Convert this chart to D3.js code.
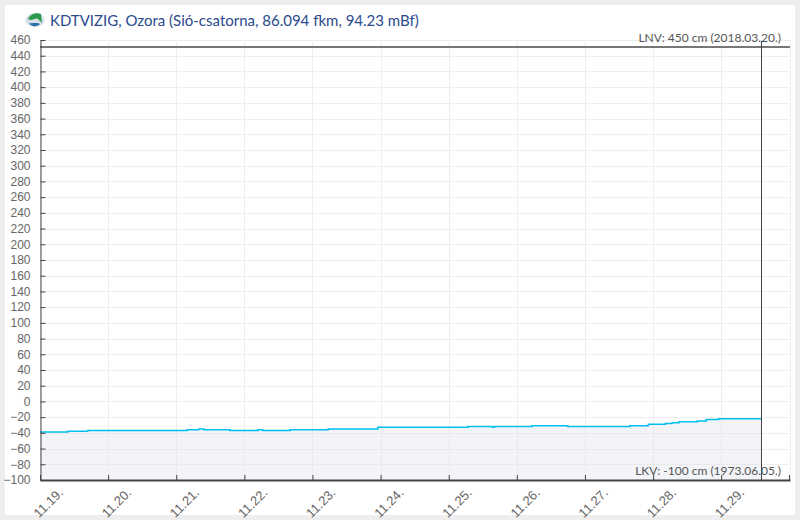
<!DOCTYPE html>
<html>
<head>
<meta charset="utf-8">
<script src="https://cdn.jsdelivr.net/npm/d3@7/dist/d3.min.js"></script>
<style>
    html, body { margin: 0; padding: 0; background: #eeeeee; }
    svg { display: block; }
    .axis-label { font-family: "Liberation Sans", Arial, sans-serif; font-size: 12px; fill: #666; }
    .day-label { font-family: "Liberation Sans", Arial, sans-serif; font-size: 13px; fill: #666; }
    .note { font-family: Lato, sans-serif; font-size: 12px; fill: #555; text-anchor: end; }
    .title { font-family: Lato, sans-serif; font-size: 15px; fill: #2a4b8d; }
</style>
</head>
<body>
<div id="chart"></div>
<script>
// days counted from 11.19. and the water level (cm) that starts there
const levelDays = [0, 0.41, 0.70, 2.16, 2.33, 2.41, 2.79, 3.20, 3.27, 3.67, 4.23, 4.96, 6.28, 6.64, 6.67, 7.22, 7.75, 8.66, 8.93, 9.18, 9.28, 9.38, 9.65, 9.78, 9.96, 10.59];
const levelValues = [-39, -38, -37, -36, -35, -36, -37, -36, -37, -36, -35, -33, -32, -33, -32, -31, -32, -31, -29, -28, -27, -26, -25, -23, -22, -22];

const dayTicks = [0, 1, 2, 3, 4, 5, 6, 7, 8, 9, 10];
const dayLabels = ["11.19.", "11.20.", "11.21.", "11.22.", "11.23.", "11.24.", "11.25.", "11.26.", "11.27.", "11.28.", "11.29."];
const levelTicks = d3.range(-100, 461, 20);

const titleText = "KDTVIZIG, Ozora (Sió-csatorna, 86.094 fkm, 94.23 mBf)";
const lnvText = "LNV: 450 cm (2018.03.20.)";
const lkvText = "LKV: -100 cm (1973.06.05.)";

const width = 800, height = 520;
const plot = {left: 40, right: 790, top: 40, bottom: 480};

const svg = d3.select("#chart").append("svg")
    .attr("width", width)
    .attr("height", height);

svg.append("rect")
    .attr("x", 5).attr("y", 5)
    .attr("width", 790).attr("height", 510)
    .attr("fill", "#fff");

const xScale = d3.scaleLinear().domain([0, 11.01]).range([plot.left, plot.right]);
const yScale = d3.scaleLinear().domain([-100, 460]).range([plot.bottom, plot.top]);

// grid
svg.append("g").selectAll("line")
    .data(levelTicks)
    .enter().append("line")
    .attr("x1", plot.left).attr("x2", plot.right)
    .attr("y1", d => Math.round(yScale(d)) + 0.5)
    .attr("y2", d => Math.round(yScale(d)) + 0.5)
    .attr("stroke", "#eeeeee");

svg.append("g").selectAll("line")
    .data(dayTicks.concat([11.01]))
    .enter().append("line")
    .attr("x1", d => Math.round(xScale(d)) + 0.5)
    .attr("x2", d => Math.round(xScale(d)) + 0.5)
    .attr("y1", plot.top).attr("y2", plot.bottom)
    .attr("stroke", "#eeeeee");

// water level
const levels = levelDays.map((d, i) => ({day: d, value: levelValues[i]}));

const area = d3.area()
    .curve(d3.curveStepAfter)
    .x(d => xScale(d.day))
    .y0(yScale(-100))
    .y1(d => yScale(d.value));

const line = d3.line()
    .curve(d3.curveStepAfter)
    .x(d => xScale(d.day))
    .y(d => yScale(d.value));

svg.append("path")
    .attr("d", area(levels))
    .attr("fill", "#dfe3ee")
    .attr("fill-opacity", 0.4);

svg.append("path")
    .attr("d", line(levels))
    .attr("fill", "none")
    .attr("stroke", "#00bfef")
    .attr("stroke-width", 1.5);

// LNV line and the "now" marker
svg.append("line")
    .attr("x1", plot.left).attr("x2", plot.right)
    .attr("y1", 47).attr("y2", 47)
    .attr("stroke", "#777")
    .attr("stroke-width", 2);

svg.append("line")
    .attr("x1", Math.floor(xScale(10.59)) + 0.5).attr("x2", Math.floor(xScale(10.59)) + 0.5)
    .attr("y1", 41).attr("y2", plot.bottom)
    .attr("stroke", "#444");

// axes
const yAxis = d3.axisLeft(yScale)
    .tickValues(levelTicks)
    .tickSize(-5)
    .tickPadding(10)
    .tickSizeOuter(0);

const xAxis = d3.axisBottom(xScale)
    .tickValues(dayTicks)
    .tickFormat((d, i) => dayLabels[i])
    .tickSize(-5)
    .tickSizeOuter(0);

const yGroup = svg.append("g")
    .attr("transform", `translate(${plot.left + 0.5},0)`)
    .call(yAxis);

const xGroup = svg.append("g")
    .attr("transform", `translate(0,${plot.bottom})`)
    .call(xAxis);

yGroup.select(".domain").attr("stroke", "#444");
yGroup.selectAll(".tick line").attr("stroke", "#444");
yGroup.selectAll("text")
    .attr("class", "axis-label")
    .attr("fill", null)
    .attr("font-size", null)
    .attr("font-family", null);

xGroup.select(".domain").attr("stroke", "#444").attr("stroke-width", 2);
xGroup.selectAll(".tick line").attr("stroke", "#444");
xGroup.selectAll("text")
    .attr("class", "day-label")
    .attr("fill", null)
    .attr("text-anchor", "middle")
    .attr("dy", null)
    .attr("y", 0)
    .attr("transform", "translate(11,26) rotate(-45)");

xGroup.append("line")
    .attr("x1", plot.right - 0.5).attr("x2", plot.right - 0.5)
    .attr("y1", -5).attr("y2", 0)
    .attr("stroke", "#444");

// notes
svg.append("text").attr("class", "note").attr("x", 781).attr("y", 42).text(lnvText);
svg.append("text").attr("class", "note").attr("x", 781).attr("y", 475).text(lkvText);

// title with the little logo
const logo = svg.append("g").attr("transform", "translate(35,20)");
logo.append("ellipse").attr("rx", 9.5).attr("ry", 7).attr("fill", "#d5e0e8");
logo.append("path")
    .attr("d", "M-7,-1 C-5,-6 2,-8 6,-6 L7,3 L3,-1 C0,-3 -3,2 -7,-1Z")
    .attr("fill", "#2e9a4c");
logo.append("path")
    .attr("d", "M-6,3 C-3,4 2,2 5,4 C2,7 -4,7 -6,3Z")
    .attr("fill", "#2a6fa8");

svg.append("text").attr("class", "title").attr("x", 50).attr("y", 26).text(titleText);
</script>
</body>
</html>
